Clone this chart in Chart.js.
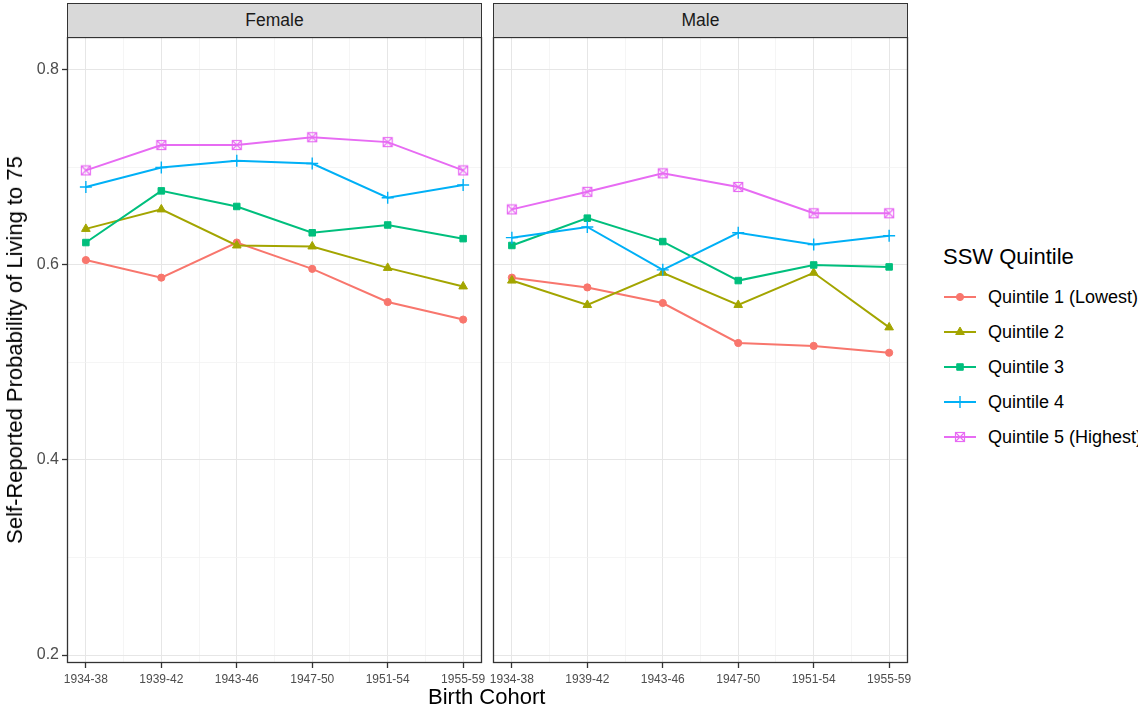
<!DOCTYPE html>
<html>
<head>
<meta charset="utf-8">
<script src="https://cdn.jsdelivr.net/npm/chart.js@4/dist/chart.umd.min.js"></script>
<style>
  body { margin: 0; background: #fff; font-family: "Liberation Sans", Arial, sans-serif; }
  #wrap { position: relative; width: 1138px; height: 709px; overflow: hidden; }
  .strip { position: absolute; top: 3px; height: 35px; box-sizing: border-box; border: 1.3px solid #333;
           background: #d9d9d9; color: #1a1a1a; font-size: 17.5px; text-align: center; line-height: 33px; }
  .title { position: absolute; color: #000; font-size: 22px; white-space: nowrap; }
  canvas.panel { position: absolute; top: 37px; }
  .key { position: absolute; left: 942px; height: 22px; }
  .key canvas { position: absolute; left: 0; top: 0; }
  .key span { position: absolute; left: 46px; top: 0; font-size: 18px; line-height: 22px; color: #000; white-space: nowrap; }
</style>
</head>
<body>
<div id="wrap">
  <div class="strip" style="left:67px;width:415px">Female</div>
  <div class="strip" style="left:493px;width:415px">Male</div>
  <canvas id="female" class="panel" width="490" height="672" style="left:0"></canvas>
  <canvas id="male" class="panel" width="432" height="672" style="left:490px"></canvas>
  <div class="title" style="left:428px;top:684px">Birth Cohort</div>
  <div class="title" style="left:15px;top:350px;transform:translate(-50%,-50%) rotate(-90deg)">Self-Reported Probability of Living to 75</div>
  <div class="title" style="left:943px;top:244px">SSW Quintile</div>
  <div id="legend"></div>
</div>
<script>
// birth cohorts on the x axis
const cohorts = ['1934-38', '1939-42', '1943-46', '1947-50', '1951-54', '1955-59'];
const quintiles = ['Quintile 1 (Lowest)', 'Quintile 2', 'Quintile 3', 'Quintile 4', 'Quintile 5 (Highest)'];
const yTicks = [0.2, 0.3, 0.4, 0.5, 0.6, 0.7, 0.8];

// female panel
const femaleQ1 = [0.605, 0.587, 0.623, 0.596, 0.562, 0.544];
const femaleQ2 = [0.637, 0.657, 0.620, 0.619, 0.597, 0.578];
const femaleQ3 = [0.623, 0.676, 0.660, 0.633, 0.641, 0.627];
const femaleQ4 = [0.680, 0.700, 0.707, 0.704, 0.669, 0.682];
const femaleQ5 = [0.697, 0.723, 0.723, 0.731, 0.726, 0.697];

// male panel
const maleQ1 = [0.587, 0.577, 0.561, 0.520, 0.517, 0.510];
const maleQ2 = [0.584, 0.559, 0.592, 0.559, 0.592, 0.536];
const maleQ3 = [0.620, 0.648, 0.624, 0.584, 0.600, 0.598];
const maleQ4 = [0.628, 0.639, 0.595, 0.633, 0.621, 0.630];
const maleQ5 = [0.657, 0.675, 0.694, 0.680, 0.653, 0.653];

const colors = ['#F8766D', '#A3A500', '#00BF7D', '#00B0F6', '#E76BF3'];

// open square with an X inside (ggplot shape 7)
function boxX(color) {
    const c = document.createElement('canvas');
    c.width = 12; c.height = 12;
    const g = c.getContext('2d');
    g.strokeStyle = color;
    g.lineWidth = 1.2;
    g.strokeRect(1.5, 1.5, 9, 9);
    g.beginPath();
    g.moveTo(1.5, 1.5); g.lineTo(10.5, 10.5);
    g.moveTo(10.5, 1.5); g.lineTo(1.5, 10.5);
    g.stroke();
    return c;
}

const markers = [
    { pointStyle: 'circle', radius: 3.6, border: 1 },
    { pointStyle: 'triangle', radius: 5, border: 1 },
    { pointStyle: 'rect', radius: 4.6, border: 1 },
    { pointStyle: 'cross', radius: 6, border: 1.4 },
    { pointStyle: boxX(colors[4]), radius: 6, border: 1 }
];

function makeSets(series) {
    return series.map((vals, i) => ({
        label: quintiles[i],
        data: vals.map((v, j) => ({ x: j + 1, y: v })),
        borderColor: colors[i],
        backgroundColor: colors[i],
        pointBackgroundColor: colors[i],
        pointBorderColor: colors[i],
        borderWidth: 2,
        pointStyle: markers[i].pointStyle,
        pointRadius: markers[i].radius,
        pointBorderWidth: markers[i].border,
        tension: 0,
        order: 4 - i
    }));
}

// panel border like ggplot theme_bw
const panelBorder = {
    id: 'panelBorder',
    afterDraw(chart) {
        const a = chart.chartArea, ctx = chart.ctx;
        ctx.save();
        ctx.strokeStyle = '#333';
        ctx.lineWidth = 1.3;
        ctx.strokeRect(a.left + 0.5, a.top + 0.5, a.right - a.left - 1, a.bottom - a.top - 1);
        ctx.restore();
    }
};

function noPad(s) {
    s.paddingTop = 0; s.paddingBottom = 0; s.paddingLeft = 0; s.paddingRight = 0;
}

function makeChart(id, series, showY, yWidth, padRight) {
    return new Chart(document.getElementById(id), {
        type: 'line',
        data: { datasets: makeSets(series) },
        options: {
            responsive: false,
            animation: false,
            layout: { autoPadding: false, padding: { top: 0, right: padRight, bottom: 0, left: 0 } },
            plugins: { legend: { display: false }, tooltip: { enabled: false } },
            scales: {
                x: {
                    type: 'linear',
                    min: 0.75,
                    max: 6.25,
                    afterBuildTicks: (s) => { s.ticks = [1, 1.5, 2, 2.5, 3, 3.5, 4, 4.5, 5, 5.5, 6].map(v => ({ value: v })); },
                    afterFit: (s) => { s.height = 46; noPad(s); },
                    border: { display: false },
                    grid: {
                        color: (c) => Number.isInteger(c.tick.value) ? '#e6e6e6' : '#f1f1f1',
                        lineWidth: (c) => Number.isInteger(c.tick.value) ? 1 : 0.7,
                        tickColor: (c) => Number.isInteger(c.tick.value) ? '#333' : 'rgba(0,0,0,0)',
                        tickLength: 5,
                        tickWidth: 1.3
                    },
                    ticks: {
                        autoSkip: false,
                        maxRotation: 0,
                        padding: 4,
                        color: '#4d4d4d',
                        font: { family: 'Liberation Sans', size: 12 },
                        callback: (v) => Number.isInteger(v) ? cohorts[v - 1] : ''
                    }
                },
                y: {
                    min: 0.1918,
                    max: 0.8338,
                    afterBuildTicks: (s) => { s.ticks = yTicks.map(v => ({ value: v })); },
                    afterFit: (s) => { s.width = yWidth; noPad(s); },
                    border: { display: false },
                    grid: {
                        color: (c) => c.index % 2 === 0 ? '#e6e6e6' : '#f1f1f1',
                        lineWidth: (c) => c.index % 2 === 0 ? 1 : 0.7,
                        tickColor: (c) => (showY && c.index % 2 === 0) ? '#333' : 'rgba(0,0,0,0)',
                        tickLength: 5,
                        tickWidth: 1.3
                    },
                    ticks: {
                        display: showY,
                        padding: 3,
                        color: '#4d4d4d',
                        font: { family: 'Liberation Sans', size: 16 },
                        callback: (v, i) => i % 2 === 0 ? yTicks[i].toFixed(1) : ''
                    }
                }
            }
        },
        plugins: [panelBorder]
    });
}

makeChart('female', [femaleQ1, femaleQ2, femaleQ3, femaleQ4, femaleQ5], true, 67, 8);
makeChart('male', [maleQ1, maleQ2, maleQ3, maleQ4, maleQ5], false, 3, 14);

// legend keys: line with marker
const legend = document.getElementById('legend');
quintiles.forEach((name, i) => {
    const div = document.createElement('div');
    div.className = 'key';
    div.style.top = (286 + i * 35) + 'px';
    const c = document.createElement('canvas');
    c.width = 36; c.height = 22;
    const g = c.getContext('2d');
    g.strokeStyle = colors[i];
    g.fillStyle = colors[i];
    g.lineWidth = 2;
    g.beginPath(); g.moveTo(2, 11); g.lineTo(34, 11); g.stroke();
    const m = markers[i];
    if (typeof m.pointStyle === 'string') {
        g.lineWidth = m.border;
        Chart.helpers.drawPoint(g, { pointStyle: m.pointStyle, radius: m.radius, borderWidth: m.border, rotation: 0 }, 18, 11);
    } else {
        g.drawImage(m.pointStyle, 12, 5);
    }
    const s = document.createElement('span');
    s.textContent = name;
    div.appendChild(c);
    div.appendChild(s);
    legend.appendChild(div);
});
</script>
</body>
</html>
